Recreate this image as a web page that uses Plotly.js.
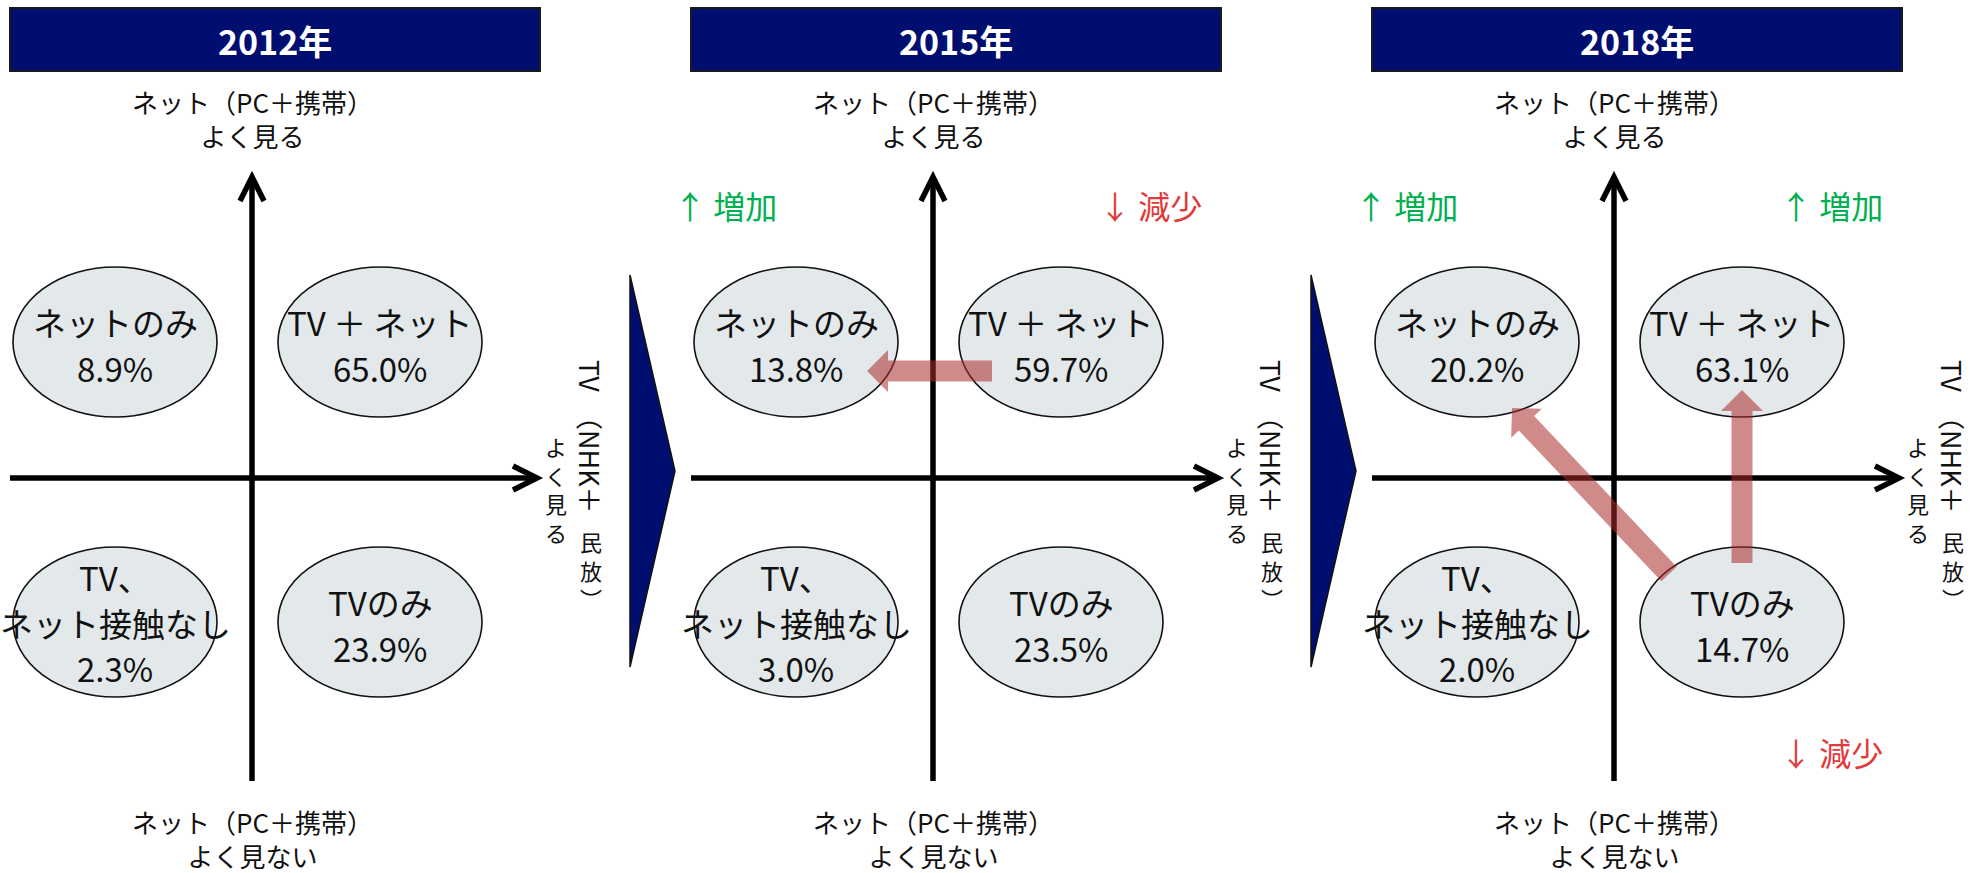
<!DOCTYPE html>
<html><head><meta charset="utf-8">
<script src="https://cdn.plot.ly/plotly-3.0.1.min.js"></script>
<style>html,body{margin:0;padding:0;background:#fff}#chart{width:1976px;height:873px}</style>
</head><body><div id="chart"></div>
<script>
// ---------- data ----------
const years = ['2012年', '2015年', '2018年'];
const segmentLabels = [['ネットのみ'], ['TV ＋ ネット'], ['TV、', 'ネット接触なし'], ['TVのみ']];
const share2012 = [8.9, 65.0, 2.3, 23.9];
const share2015 = [13.8, 59.7, 3.0, 23.5];
const share2018 = [20.2, 63.1, 2.0, 14.7];
const netHighLabel = ['ネット（PC＋携帯）', 'よく見る'];
const netLowLabel = ['ネット（PC＋携帯）', 'よく見ない'];
// right-hand axis label, written vertically: "TV（NHK＋民放）" / "よく見る"
const tvRotatedRuns = ['TV', '（NHK＋'];
const tvUprightRun = ['民', '放', '︶'];
const tvSecondLine = ['よ', 'く', '見', 'る'];
const upText = '↑ 増加';
const downText = '↓ 減少';
// flows: [year index, from segment, to segment]
const flows = [[1, 1, 0], [2, 3, 0], [2, 3, 1]];

// ---------- layout geometry ----------
const shares = [share2012, share2015, share2018];
const FONT = '"Noto Sans CJK JP", "Noto Sans", sans-serif';
const NAVY = '#000f6f';
const PANEL_DX = 681;
const AXIS_X = 252, AXIS_Y = 478;
const COL_X = [115, 380], ROW_Y = [342, 622];
const RX = 102, RY = 75;
const quad = [[0, 0], [1, 0], [0, 1], [1, 1]];
const ARROW_FILL = 'rgba(172,42,42,0.55)';

const shapes = [];
const annotations = [];

function ann(x, y, text, size, color, extra) {
  annotations.push(Object.assign({
    x: x, y: y, xref: 'x', yref: 'y', text: text, showarrow: false,
    xanchor: 'center', yanchor: 'middle', borderpad: 0,
    font: {family: FONT, size: size, color: color || '#111'}
  }, extra || {}));
}
function path(d, fill, lineColor, lineWidth) {
  shapes.push({type: 'path', xref: 'x', yref: 'y', path: d,
    fillcolor: fill || 'rgba(0,0,0,0)',
    line: {color: lineColor || 'rgba(0,0,0,0)', width: lineWidth || 0}});
}
function blockArrow(x0, y0, x1, y1, sw, hw, hl) {
  const dx = x1 - x0, dy = y1 - y0, L = Math.hypot(dx, dy);
  const ux = dx / L, uy = dy / L, px = -uy, py = ux;
  const bx = x1 - ux * hl, by = y1 - uy * hl;
  const pts = [[x0 + px * sw, y0 + py * sw], [bx + px * sw, by + py * sw], [bx + px * hw, by + py * hw],
    [x1, y1], [bx - px * hw, by - py * hw], [bx - px * sw, by - py * sw], [x0 - px * sw, y0 - py * sw]];
  return 'M' + pts.map(p => p[0].toFixed(1) + ',' + p[1].toFixed(1)).join('L') + 'Z';
}
// arrow endpoint offsets from quadrant centres, keyed by "from-to"
const flowGeom = {
  '1-0': {tail: [-69, 29], tip: [71, 29]},
  '3-0': {tail: [-73, -48], tip: [35, 66]},
  '3-1': {tail: [0, -59], tip: [0, 48]}
};

years.forEach((yr, p) => {
  const ox = p * PANEL_DX;
  const ax = AXIS_X + ox;
  // title bar
  shapes.push({type: 'rect', xref: 'x', yref: 'y', x0: 10 + ox, x1: 540 + ox, y0: 8, y1: 71,
    fillcolor: NAVY, line: {color: '#1a1a1a', width: 2}});
  ann(275 + ox, 40, '<b>' + yr + '</b>', 34, '#ffffff', {font: {family: FONT, size: 34, color: '#ffffff', weight: 700}});
  // axis labels
  ann(252 + ox, 118, netHighLabel.join('<br>'), 26);
  ann(252 + ox, 838, netLowLabel.join('<br>'), 26);
  // right label (vertical writing)
  ann(591 + ox, 376, tvRotatedRuns[0], 27, '#111', {textangle: 90});
  ann(591 + ox, 458, tvRotatedRuns[1], 27, '#111', {textangle: 90});
  ann(591 + ox, 569, tvUprightRun.join('<br>'), 22);
  ann(556 + ox, 489, tvSecondLine.join('<br>'), 22);
  // ellipses
  quad.forEach((q, s) => {
    const cx = COL_X[q[0]] + ox, cy = ROW_Y[q[1]];
    shapes.push({type: 'circle', xref: 'x', yref: 'y', x0: cx - RX, x1: cx + RX, y0: cy - RY, y1: cy + RY,
      fillcolor: '#e3e9eb', line: {color: '#111', width: 1.6}});
  });
  // axes
  path(`M${ax},781L${ax},181`, null, '#000', 5.5);
  path(`M${ax - 12},201L${ax},177L${ax + 12},201`, null, '#000', 5.5);
  path(`M${10 + ox},${AXIS_Y}L${533 + ox},${AXIS_Y}`, null, '#000', 5.5);
  path(`M${513 + ox},${AXIS_Y - 12}L${537 + ox},${AXIS_Y}L${513 + ox},${AXIS_Y + 12}`, null, '#000', 5.5);
  // navy chevron between panels
  if (p < years.length - 1) {
    path(`M${630 + ox},275L${675 + ox},471L${630 + ox},667Z`, NAVY, '#111', 1.5);
  }
  // segment texts
  quad.forEach((q, s) => {
    const cx = COL_X[q[0]] + ox, cy = ROW_Y[q[1]];
    const lines = segmentLabels[s].concat([shares[p][s].toFixed(1) + '%']);
    const step = 45.5;
    const first = lines.length === 2 ? cy - 20 : cy - 45;
    lines.forEach((t, i) => ann(cx, first + i * step, t, 33));
  });
  // change indicators vs previous survey
  if (p > 0) {
    quad.forEach((q, s) => {
      const d = shares[p][s] - shares[p - 1][s];
      if (Math.abs(d) < 3) return;
      const x = (q[0] === 0 ? 44 : 469) + ox;
      const y = q[1] === 0 ? 205 : 752;
      ann(x, y, d > 0 ? upText : downText, 32, d > 0 ? '#00b050' : '#e23a3a');
    });
  }
});

// flow arrows (semi-transparent)
flows.forEach(f => {
  const [p, a, b] = f;
  const ox = p * PANEL_DX;
  const g = flowGeom[a + '-' + b];
  const ca = [COL_X[quad[a][0]] + ox, ROW_Y[quad[a][1]]];
  const cb = [COL_X[quad[b][0]] + ox, ROW_Y[quad[b][1]]];
  path(blockArrow(ca[0] + g.tail[0], ca[1] + g.tail[1], cb[0] + g.tip[0], cb[1] + g.tip[1], 10.5, 21, 21), ARROW_FILL);
});

const layout = {
  width: 1976, height: 873,
  margin: {l: 0, r: 0, t: 0, b: 0},
  paper_bgcolor: '#ffffff', plot_bgcolor: '#ffffff',
  xaxis: {range: [0, 1976], visible: false, fixedrange: true},
  yaxis: {range: [873, 0], visible: false, fixedrange: true},
  showlegend: false,
  shapes: shapes,
  annotations: annotations
};
Plotly.newPlot('chart', [{type: 'scatter', x: [], y: [], hoverinfo: 'skip'}], layout, {displayModeBar: false, staticPlot: true});
</script>
</body></html>
